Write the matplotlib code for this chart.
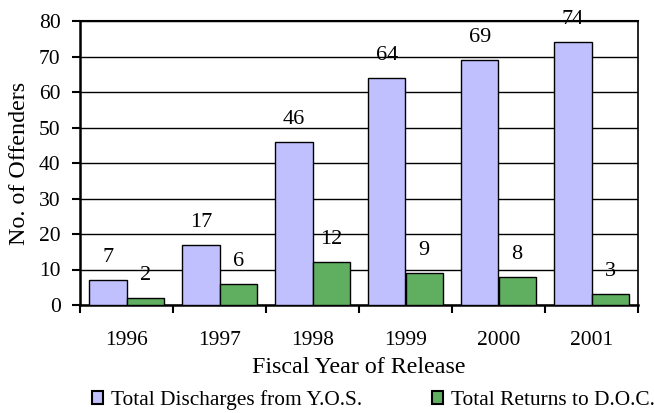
import matplotlib
matplotlib.use("Agg")
import matplotlib.pyplot as plt
import numpy as np
from matplotlib.patches import Patch

years = ["1996", "1997", "1998", "1999", "2000", "2001"]
discharges = [7, 17, 46, 64, 69, 74]
returns = [2, 6, 12, 9, 8, 3]

plt.rcParams['font.family'] = ['Liberation Serif', 'DejaVu Serif']

fig = plt.figure(figsize=(6.54, 4.13), dpi=100)
ax = fig.add_axes([80/654, 1-305/413, 558/654, 284/413])

x = np.arange(len(years))
w = 0.4
c1 = "#C0C0FF"
c2 = "#60AF60"
ax.bar(x - w/2, discharges, w, color=c1, edgecolor="black", linewidth=1, zorder=3)
ax.bar(x + w/2, returns, w, color=c2, edgecolor="black", linewidth=1, zorder=3)

for xi, v in zip(x, discharges):
    ax.annotate(str(v), (xi - w/2, v), xytext=(0, 13), textcoords="offset points",
                ha="center", va="baseline", fontsize=16, zorder=4)
for xi, v in zip(x, returns):
    ax.annotate(str(v), (xi + w/2, v), xytext=(0, 13), textcoords="offset points",
                ha="center", va="baseline", fontsize=16, zorder=4)

ax.set_xlim(-0.5, len(years) - 0.5)
ax.set_ylim(0, 80)
ax.set_yticks(range(0, 81, 10))
ax.yaxis.grid(True, color="black", linewidth=1, zorder=0)
ax.set_axisbelow(True)

ax.set_xticks(x)
ax.set_xticklabels(years, fontsize=15.5)
ax.set_xticks(np.arange(-0.5, len(years), 1), minor=True)
ax.tick_params(axis="x", which="major", length=0, pad=19)
ax.tick_params(axis="x", which="minor", length=6, width=1.5, direction="out")
ax.tick_params(axis="y", labelsize=15.5, length=6, width=1.5, direction="out", pad=8)

ax.spines["top"].set_linewidth(1.5)
ax.spines["right"].set_linewidth(1.2)
for s in ["left", "bottom"]:
    ax.spines[s].set_linewidth(1.8)

ax.set_xlabel("Fiscal Year of Release", fontsize=17.3, labelpad=5)
ax.set_ylabel("No. of Offenders", fontsize=17.3, labelpad=6)

handles = [Patch(facecolor=c1, edgecolor="black", linewidth=1.5),
           Patch(facecolor=c2, edgecolor="black", linewidth=1.5)]
fig.legend(handles, ["Total Discharges from Y.O.S.", "Total Returns to D.O.C."],
           loc="center", bbox_to_anchor=(0.571, 1-400/413), ncol=2, frameon=False,
           fontsize=15.4, handlelength=0.5, handleheight=0.6, handletextpad=0.37,
           columnspacing=3.3, borderpad=0, borderaxespad=0)

fig.savefig("out.png", dpi=100)
